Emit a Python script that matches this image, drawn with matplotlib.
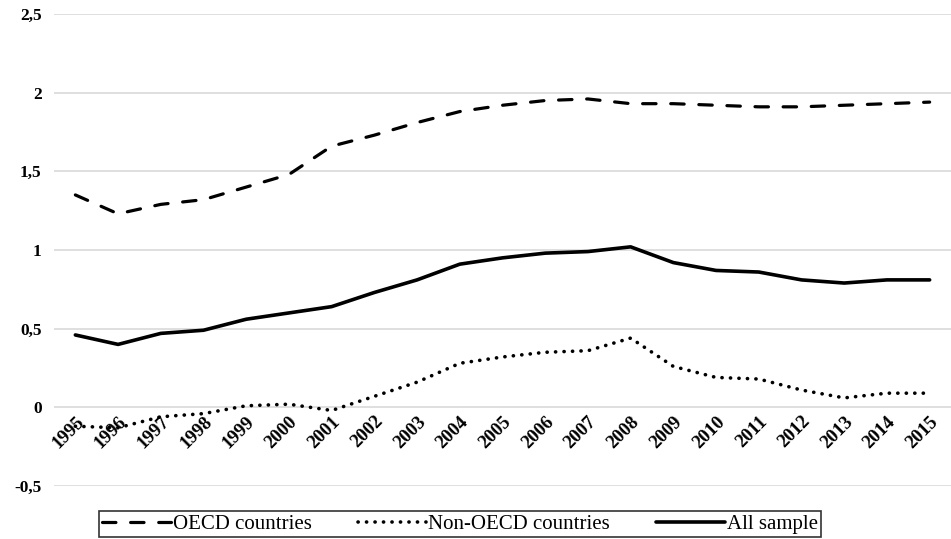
import numpy as np
import matplotlib.pyplot as plt
from matplotlib.ticker import FuncFormatter

years = [str(y) for y in range(1995, 2016)]
oecd = [1.35, 1.23, 1.29, 1.32, 1.40, 1.48, 1.66, 1.73, 1.81, 1.88, 1.92,
        1.95, 1.96, 1.93, 1.93, 1.92, 1.91, 1.91, 1.92, 1.93, 1.94]
non_oecd = [-0.12, -0.13, -0.06, -0.04, 0.01, 0.02, -0.02, 0.07, 0.16, 0.28, 0.32,
            0.35, 0.36, 0.44, 0.26, 0.19, 0.18, 0.11, 0.06, 0.09, 0.09]
all_sample = [0.46, 0.40, 0.47, 0.49, 0.56, 0.60, 0.64, 0.73, 0.81, 0.91, 0.95,
              0.98, 0.99, 1.02, 0.92, 0.87, 0.86, 0.81, 0.79, 0.81, 0.81]

plt.rcParams['font.family'] = ['Liberation Serif', 'DejaVu Serif']

fig = plt.figure(figsize=(9.51, 5.39), dpi=100)
ax = fig.add_axes([54/951, 53/539, 897/951, 472/539])

x = np.arange(len(years))
lw = 2.3
ax.plot(x, oecd, color='black', lw=lw, linestyle=(0, (4.2, 4.6)),
        dash_capstyle='round', label='OECD countries')
ax.plot(x, non_oecd, color='black', lw=2.6, linestyle=(0, (0.05, 2.3)),
        dash_capstyle='round', label='Non-OECD countries')
ax.plot(x, all_sample, color='black', lw=lw + 0.3, solid_capstyle='round',
        label='All sample')

ax.set_xlim(-0.5, len(years) - 0.5)
ax.set_ylim(-0.5, 2.5)
ax.set_yticks(np.arange(-0.5, 2.51, 0.5))
ax.yaxis.set_major_formatter(FuncFormatter(
    lambda v, p: ('%g' % round(v, 2)).replace('.', ',')))
ax.grid(axis='y', color='#d9d9d9', lw=1.2)
ax.set_axisbelow(True)
for s in ax.spines.values():
    s.set_visible(False)
ax.spines['bottom'].set_position(('data', 0))

ax.set_xticks(x)
ax.set_xticklabels(years, rotation=45, ha='right', va='top',
                   rotation_mode='anchor', fontweight='bold', fontsize=13.5)
ax.tick_params(axis='x', length=0, pad=4)
ax.tick_params(axis='y', length=0, pad=9, labelsize=12.5)
for t in ax.get_yticklabels():
    t.set_fontweight('bold')

leg = fig.legend(loc='lower center', bbox_to_anchor=(460/951, 0.0), ncol=3,
                 fontsize=15, frameon=True, fancybox=False, edgecolor='black',
                 handlelength=3.3, handletextpad=0.1, columnspacing=2.2,
                 borderpad=0.15, borderaxespad=0.1)
leg.get_frame().set_linewidth(1.2)

plt.savefig('out.png')
